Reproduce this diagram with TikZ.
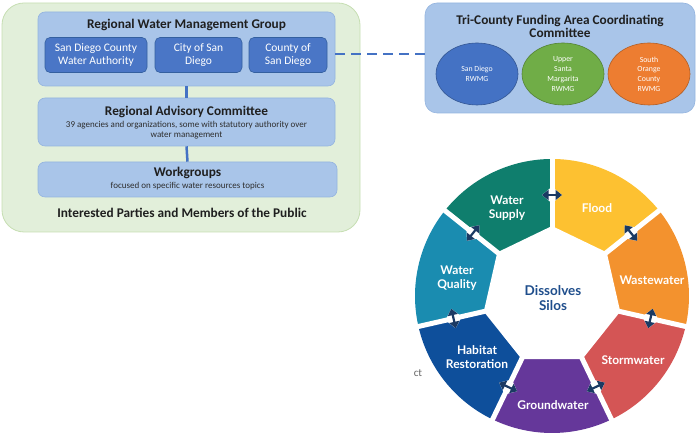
\documentclass[tikz,border=0pt]{standalone}
\usepackage{fontspec}
\setmainfont{Carlito}
\newfontfamily\wheelfont{Lato}
\usetikzlibrary{arrows.meta,calc,shapes.geometric}

\definecolor{panelgreen}{HTML}{E2EFDA}
\definecolor{panelgreenline}{HTML}{C6DEB2}
\definecolor{groupblue}{HTML}{A9C5E9}
\definecolor{grouplinecol}{HTML}{94B4DF}
\definecolor{memberblue}{HTML}{4A76C6}
\definecolor{memberline}{HTML}{34609F}
\definecolor{linkblue}{HTML}{4472C4}
\definecolor{sdblue}{HTML}{4472C4}
\definecolor{smgreen}{HTML}{70AD47}
\definecolor{ocorange}{HTML}{ED7D31}
\definecolor{supplycol}{HTML}{0F7E6D}
\definecolor{floodcol}{HTML}{FDC131}
\definecolor{wastecol}{HTML}{F3922E}
\definecolor{stormcol}{HTML}{D45555}
\definecolor{groundcol}{HTML}{65379A}
\definecolor{habitatcol}{HTML}{0E4F9B}
\definecolor{qualitycol}{HTML}{1A8CB0}
\definecolor{arrownavy}{HTML}{1B3A63}
\definecolor{silosnavy}{HTML}{1F4E8C}

\begin{document}
\begin{tikzpicture}[x=1pt,y=1pt,
    panel/.style={draw=panelgreenline, fill=panelgreen, line width=0.8pt, rounded corners=22pt, inner sep=0pt},
    groupbox/.style={draw=grouplinecol, fill=groupblue, line width=0.6pt, rounded corners=7pt, inner sep=0pt},
    memberbox/.style={draw=memberline, fill=memberblue, line width=0.6pt, rounded corners=5pt, inner sep=0pt,
        minimum height=35pt, text=white, align=center, font=\fontsize{11.5}{12.5}\selectfont},
    title/.style={font=\bfseries\fontsize{13.3}{14}\selectfont, text=black!88},
    subtitle/.style={font=\fontsize{9}{10}\selectfont, align=center, text=black!82},
    rwmgcircle/.style={ellipse, draw=#1!75!black, fill=#1, line width=0.6pt, minimum width=82pt, minimum height=62pt,
        inner sep=0pt, text=white, align=center, font=\fontsize{7.8}{9.7}\selectfont},
    link/.style={draw=linkblue, line width=2.5pt},
    dashlink/.style={draw=linkblue, line width=2pt, dash pattern=on 10pt off 6pt},
    seglabel/.style={text=white, align=center, font=\wheelfont\bfseries\fontsize{12}{14.5}\selectfont},
    gapcase/.style={draw=white, line width=6pt, {Triangle[length=10pt,width=16pt]}-{Triangle[length=10pt,width=16pt]}},
    gaparrow/.style={draw=arrownavy, line width=2.2pt, {Triangle[length=6.5pt,width=10pt]}-{Triangle[length=6.5pt,width=10pt]}}
  ]
  \useasboundingbox (0,0) rectangle (697,433);

  % governance structure
  \node[panel, minimum width=358pt, minimum height=229pt] (public) at (181,315.5) {};
  \node[groupbox, minimum width=297pt, minimum height=74pt] (rwmg) at (186.5,384) {};
  \node[title] (rwmgtitle) at (186.5,408) {Regional Water Management Group};
  \node[memberbox, minimum width=102pt] (sdcwa) at (96,378) {San Diego County\\Water Authority};
  \node[memberbox, minimum width=87pt] (city) at (198.5,378) {City of San\\Diego};
  \node[memberbox, minimum width=78pt] (county) at (288,378) {County of\\San Diego};

  \node[groupbox, minimum width=297pt, minimum height=48pt] (rac) at (186.5,311) {};
  \node[title] (ractitle) at (186.5,321) {Regional Advisory Committee};
  \node[subtitle] (racnote) at (186.5,303) {39 agencies and organizations, some with statutory authority over\\water management};

  \node[groupbox, minimum width=299pt, minimum height=35pt] (work) at (187.5,253.5) {};
  \node[title] (worktitle) at (187.5,260) {Workgroups};
  \node[subtitle] (worknote) at (187.5,246.5) {focused on specific water resources topics};

  \node[title] (publictitle) at (182,220) {Interested Parties and Members of the Public};

  \draw[link] (rwmg.south) -- (rac.north);
  \draw[link] (rac.south) -- (work.north);

  % funding area
  \node[groupbox, rounded corners=12pt, minimum width=270pt, minimum height=110pt] (tricounty) at (560,375) {};
  \node[title, align=center, font=\bfseries\fontsize{13.3}{13.5}\selectfont] (trititle) at (560,406.5) {Tri-County Funding Area Coordinating\\Committee};
  \node[rwmgcircle=sdblue] (sdrwmg) at (477,359) {San Diego\\RWMG};
  \node[rwmgcircle=smgreen] (smrwmg) at (563,359) {Upper\\Santa\\Margarita\\RWMG};
  \node[rwmgcircle=ocorange] (ocrwmg) at (649,359) {South\\Orange\\County\\RWMG};

  \draw[dashlink] ([yshift=-5pt]rwmg.east) -- ([yshift=4pt]tricounty.west);

  % wheel
  \coordinate (hub) at (552,137);
  \foreach \col [count=\k from 0] in {supplycol,floodcol,wastecol,stormcol,groundcol,habitatcol,qualitycol} {
    \pgfmathsetmacro\sa{90+360/7-\k*360/7}
    \pgfmathsetmacro\ea{\sa-360/7}
    \fill[\col] (hub) -- ($(hub)+(\sa:137)$) arc[start angle=\sa, end angle=\ea, radius=137pt] -- cycle;
  }
  \fill[white] ($(hub)+(90:70)$) \foreach \i in {1,...,6} { -- ($(hub)+({90-\i*360/7}:70)$) } -- cycle;
  \foreach \i in {0,...,6}
    \draw[white, line width=5pt] (hub) -- ($(hub)+({90-\i*360/7}:140)$);

  \foreach \i in {0,...,6} {
    \pgfmathsetmacro\g{90-\i*360/7}
    \coordinate (gapin\i) at ($(hub)+(\g:101)+({\g+90}:10)$);
    \coordinate (gapout\i) at ($(hub)+(\g:101)+({\g-90}:10)$);
    \draw[gapcase] (gapin\i) -- (gapout\i);
    \draw[gaparrow] (gapin\i) -- (gapout\i);
  }

  \node[seglabel] (supply) at ($(hub)+(-45,88)$) {Water\\Supply};
  \node[seglabel] (flood) at ($(hub)+(45,88)$) {Flood};
  \node[seglabel] (waste) at ($(hub)+(100,16)$) {Wastewater};
  \node[seglabel] (storm) at ($(hub)+(81,-64)$) {Stormwater};
  \node[seglabel] (ground) at ($(hub)+(1,-109)$) {Groundwater};
  \node[seglabel] (habitat) at ($(hub)+(-75,-61)$) {Habitat\\Restoration};
  \node[seglabel] (quality) at ($(hub)+(-95,18)$) {Water\\Quality};
  \node[seglabel, text=silosnavy, font=\wheelfont\bfseries\fontsize{13.5}{15}\selectfont] (silos) at ($(hub)+(1,-2)$) {Dissolves\\Silos};

  \node[text=black!60, font=\fontsize{11}{13}\selectfont] (cut) at (418,60) {ct};
\end{tikzpicture}
\end{document}
